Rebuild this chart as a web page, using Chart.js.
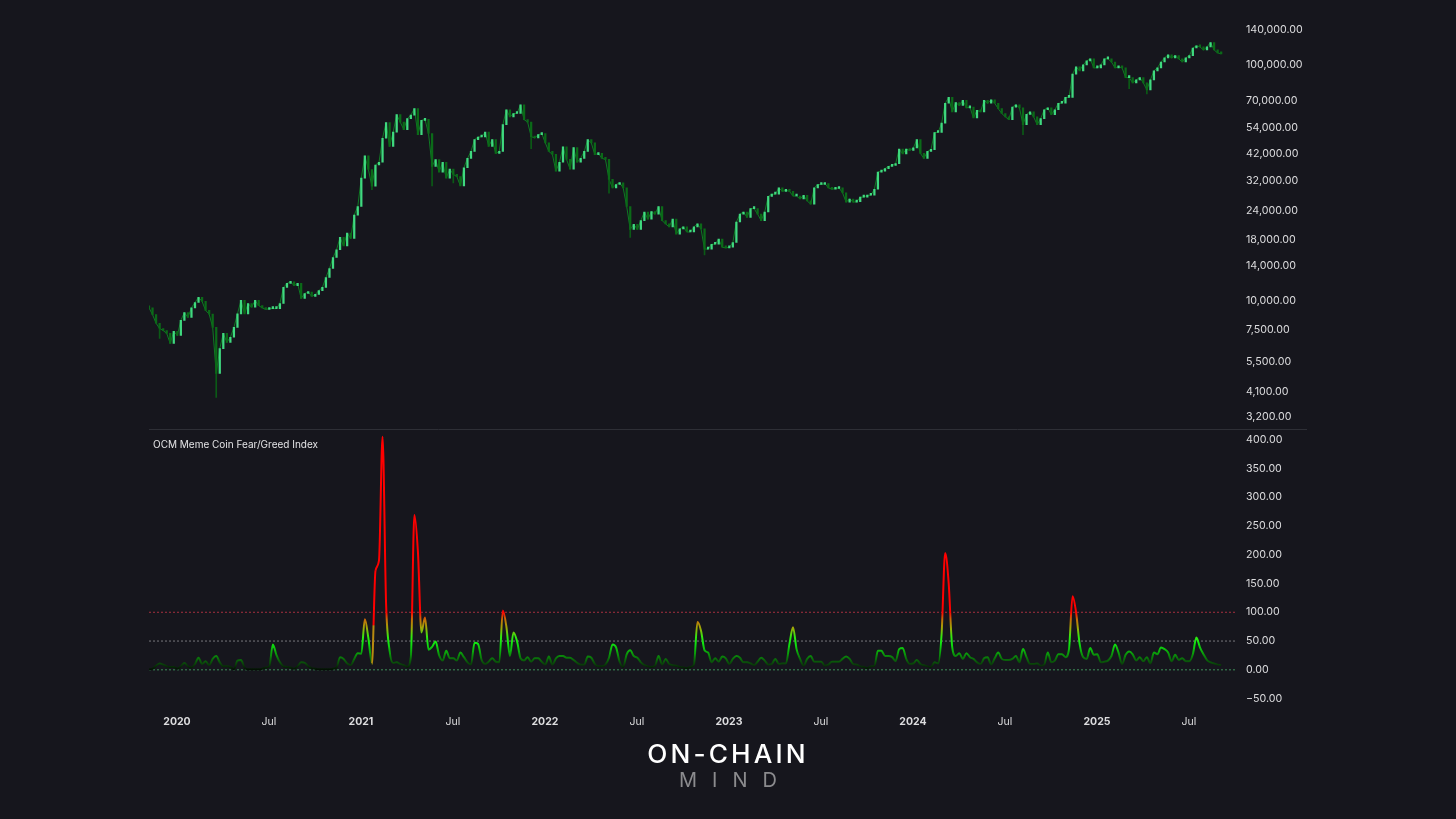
<!DOCTYPE html>
<html>
<head>
<meta charset="utf-8">
<title>OCM Meme Coin Fear/Greed Index</title>
<script src="https://cdn.jsdelivr.net/npm/chart.js@4"></script>
<style>
    html, body { margin: 0; padding: 0; background: #16161d; overflow: hidden; }
    #wrap { position: relative; width: 1456px; height: 819px; }
    #chart { position: absolute; left: 0; top: 0; }
    .panel-title { position: absolute; left: 153px; top: 438px; font: 400 10px Inter, sans-serif; color: #e4e4e6; }
    .logo { position: absolute; width: 1456px; left: 0; text-align: center; font-family: Inter, sans-serif; white-space: nowrap; }
    #logo1 { top: 739px; font-size: 25px; font-weight: 500; letter-spacing: 3px; color: #ffffff; transform: scaleX(1.05); }
    #logo2 { top: 768px; font-size: 20px; font-weight: 400; letter-spacing: 15px; color: #8b8b8e; text-indent: 15px; }
</style>
</head>
<body>
<div id="wrap">
    <canvas id="chart" width="1456" height="819"></canvas>
    <div class="panel-title">OCM Meme Coin Fear/Greed Index</div>
    <div class="logo" id="logo1">ON-CHAIN</div>
    <div class="logo" id="logo2">MIND</div>
</div>
<script>
// weekly samples
const firstWeek = 2019.848;
const weekStep = 1 / 52;

const priceCloses = [
    9300, 8700, 8000, 7600, 7450, 7250, 6570, 7400, 7100, 8230,
    8880, 8470, 9300, 9800, 10300, 9900, 9070, 8750, 7680, 4900,
    6250, 7250, 6640, 6980, 7680, 8770, 10000, 8770, 9700, 9350,
    10000, 9500, 9300, 9150, 9230, 9230, 9230, 9700, 11350, 11800,
    12000, 11550, 11800, 10200, 10700, 10850, 10400, 10600, 11000, 11350,
    12500, 13650, 15200, 16400, 18500, 17000, 19300, 18300, 23000, 25000,
    33000, 41000, 35900, 30500, 37500, 38500, 48700, 56700, 45000, 51700,
    61300, 57000, 53000, 59000, 61000, 65000, 50400, 58000, 58500, 51000,
    37000, 39500, 35000, 38500, 33000, 36000, 34200, 33500, 30600, 36500,
    40000, 42800, 48000, 49300, 49300, 51700, 45000, 48000, 42000, 42800,
    55600, 64300, 60000, 62000, 62000, 67500, 58400, 57000, 49500, 48800,
    50400, 51000, 46500, 42800, 41600, 35300, 38500, 44800, 39600, 36000,
    44500, 38500, 40000, 42800, 48000, 46500, 41500, 42000, 40000, 39600,
    32600, 30000, 31000, 31500, 30000, 25000, 20000, 21000, 20000, 21800,
    23700, 22100, 23800, 23200, 25000, 21800, 21100, 20500, 22100, 19100,
    20100, 20500, 19500, 19500, 20500, 21100, 20100, 16500, 16500, 17300,
    17300, 18200, 16800, 16700, 16800, 17600, 21500, 23200, 23700, 22500,
    24500, 24500, 23200, 21800, 23700, 27600, 28200, 28200, 30000, 29000,
    29300, 29000, 27700, 27700, 26900, 27900, 26400, 25600, 30000, 31000,
    31000, 31300, 30000, 29600, 29800, 30000, 28600, 26100, 26900, 26100,
    26200, 27400, 27400, 27900, 27900, 29600, 35000, 35300, 36200, 37000,
    37300, 38000, 43800, 41800, 43800, 43200, 44300, 48000, 42000, 40000,
    42800, 43600, 51500, 51500, 56400, 68500, 72500, 63000, 69000, 67000,
    70500, 65500, 66000, 59300, 64000, 63000, 70500, 68500, 70900, 68500,
    65000, 62000, 60000, 58400, 66000, 67500, 65500, 55600, 61500, 63000,
    60000, 55600, 59000, 64300, 65500, 61300, 64300, 68500, 68500, 72500,
    72500, 91000, 97800, 94000, 99600, 103600, 105700, 96800, 96800, 99600,
    105700, 105700, 102500, 96800, 97800, 96800, 88000, 88000, 83600, 86100,
    88000, 83600, 78100, 86100, 94000, 96800, 102500, 106700, 109800, 106700,
    109000, 105700, 102500, 106700, 109000, 117500, 120000, 118700, 115300, 118700,
    124000, 115300, 112000, 111000
];

// the long dark lower wicks
const wickWeeks = [3, 19, 63, 80, 86, 108, 130, 136, 157, 247, 277, 282];
const wickLows = [6900, 3880, 29500, 30600, 31500, 44000, 28500, 18500, 15600, 50400, 79000, 75000];

const fearGreedValues = [
    1, 2, 7, 11, 9, 6, 5, 5, 2, 6,
    12, 6, 4, 10, 21, 10, 15, 8, 19, 24,
    13, 6, 6, 5, 1, 16, 17, 4, 1, 1,
    1, 1, 2, 4, 6, 44, 26, 13, 6, 5,
    4, 2, 6, 13, 12, 6, 3, 2, 1, 1,
    1, 1, 2, 4, 22, 19, 11, 8, 19, 29,
    28, 88, 55, 10, 172, 190, 405, 115, 33, 12,
    13, 10, 8, 5, 22, 269, 205, 65, 91, 35,
    40, 49, 25, 16, 33, 20, 20, 16, 30, 22,
    13, 9, 47, 45, 17, 10, 14, 20, 14, 13,
    103, 75, 24, 65, 50, 20, 16, 22, 14, 20,
    20, 14, 9, 23, 9, 20, 24, 24, 21, 21,
    17, 12, 9, 9, 23, 21, 10, 6, 6, 9,
    21, 44, 39, 14, 5, 27, 34, 24, 21, 13,
    8, 6, 5, 7, 24, 9, 19, 10, 8, 7,
    5, 4, 3, 5, 9, 83, 68, 34, 30, 13,
    20, 14, 23, 20, 10, 19, 24, 21, 13, 13,
    11, 8, 14, 21, 16, 9, 10, 19, 10, 11,
    11, 45, 74, 36, 19, 7, 19, 24, 14, 14,
    14, 7, 9, 14, 14, 14, 19, 23, 19, 10,
    9, 6, 5, 3, 6, 7, 33, 33, 24, 24,
    22, 15, 36, 38, 19, 10, 11, 17, 10, 8,
    6, 5, 13, 11, 63, 203, 150, 39, 24, 29,
    19, 29, 22, 19, 13, 10, 20, 22, 9, 20,
    30, 19, 17, 17, 19, 24, 13, 36, 22, 10,
    10, 11, 7, 9, 30, 13, 16, 27, 27, 22,
    36, 128, 100, 45, 22, 19, 38, 26, 27, 13,
    14, 16, 24, 44, 30, 10, 26, 32, 27, 16,
    22, 15, 22, 11, 30, 27, 39, 36, 30, 15,
    26, 17, 20, 15, 15, 27, 56, 39, 27, 17,
    13, 11, 9, 8
];

const priceTicks = [140000, 100000, 70000, 54000, 42000, 32000, 24000, 18000, 14000, 10000, 7500, 5500, 4100, 3200];
const fearTicks = [400, 350, 300, 250, 200, 150, 100, 50, 0, -50];
const timeTicks = [2020, 2020.5, 2021, 2021.5, 2022, 2022.5, 2023, 2023.5, 2024, 2024.5, 2025, 2025.5];
const timeLabels = ['2020', 'Jul', '2021', 'Jul', '2022', 'Jul', '2023', 'Jul', '2024', 'Jul', '2025', 'Jul'];
const levelLines = [100, 50, 0];
const levelColors = ['#a5303f', '#77777c', '#3f8f5a'];

const xMin = 2019.848;
const xMax = 2025.761;
const tickFont = 'Inter, sans-serif';
const tickColor = '#dcdcde';

function weekOf(i) {
    return firstWeek + i * weekStep;
}

// floating bars: each week runs from the previous close to this close
const priceBars = priceCloses.map((close, i) => ({
    x: weekOf(i),
    y: [i === 0 ? close * 1.01 : priceCloses[i - 1], close]
}));

const priceTrace = priceCloses.map((close, i) => ({ x: weekOf(i), y: close }));

const wickBars = wickWeeks.map((week, i) => ({
    x: weekOf(week),
    y: [wickLows[i], priceCloses[week]]
}));

const fearPoints = fearGreedValues.map((v, i) => ({ x: weekOf(i), y: v }));

const levelDatasets = levelLines.map((v, i) => ({
    type: 'line',
    yAxisID: 'yFear',
    data: [{ x: xMin, y: v }, { x: xMax, y: v }],
    borderColor: levelColors[i],
    borderWidth: 1,
    borderDash: [2, 2],
    pointRadius: 0,
    order: 5
}));

function fearGradient(chart) {
    const scale = chart.scales.yFear;
    const y0 = scale.getPixelForValue(0);
    const y1 = scale.getPixelForValue(110);
    const g = chart.ctx.createLinearGradient(0, y0, 0, y1);
    g.addColorStop(0, '#030d03');
    g.addColorStop(0.09, '#0a3f0a');
    g.addColorStop(0.18, '#0a700a');
    g.addColorStop(0.3, '#0bb00b');
    g.addColorStop(0.42, '#12e612');
    g.addColorStop(0.52, '#30e810');
    g.addColorStop(0.66, '#9fa808');
    g.addColorStop(0.8, '#c86a08');
    g.addColorStop(0.91, '#ff0000');
    g.addColorStop(1, '#ff0000');
    return g;
}

// the first 2021 jump stays orange until it clears about 75
function jumpGradient(chart) {
    const scale = chart.scales.yFear;
    const g = chart.ctx.createLinearGradient(0, scale.getPixelForValue(10), 0, scale.getPixelForValue(172));
    g.addColorStop(0, '#b88a10');
    g.addColorStop(0.41, '#b88a10');
    g.addColorStop(0.42, '#ff0000');
    g.addColorStop(1, '#ff0000');
    return g;
}

const dividerPlugin = {
    id: 'divider',
    afterDraw(chart) {
        const c = chart.ctx;
        c.save();
        c.strokeStyle = '#2e2f36';
        c.lineWidth = 1;
        c.beginPath();
        c.moveTo(chart.chartArea.left, 429.5);
        c.lineTo(1307, 429.5);
        c.stroke();
        c.restore();
    }
};

function fitPriceAxis(scale) {
    scale.width = 219;
    scale.paddingTop = 0;
    scale.paddingBottom = 0;
}

new Chart(document.getElementById('chart'), {
    type: 'bar',
    data: {
        datasets: [
            ...levelDatasets,
            {
                type: 'line',
                yAxisID: 'yPrice',
                data: priceTrace,
                borderColor: '#0f7a24',
                borderWidth: 1,
                pointRadius: 0,
                order: 4
            },
            {
                type: 'bar',
                yAxisID: 'yPrice',
                data: wickBars,
                barThickness: 1,
                grouped: false,
                backgroundColor: '#0b5a16',
                order: 3
            },
            {
                type: 'bar',
                yAxisID: 'yPrice',
                data: priceBars,
                barThickness: 1.6,
                minBarLength: 2,
                grouped: false,
                backgroundColor: ctx => {
                    const bar = ctx.raw;
                    return bar && bar.y[1] >= bar.y[0] ? '#3fd97f' : '#0b6a18';
                },
                order: 2
            },
            {
                type: 'line',
                yAxisID: 'yFear',
                data: fearPoints,
                borderWidth: 2,
                pointRadius: 0,
                cubicInterpolationMode: 'monotone',
                borderColor: ctx => ctx.chart.chartArea ? fearGradient(ctx.chart) : '#10e010',
                segment: {
                    borderColor: ctx => {
                        if (ctx.p0.parsed.y < 15 && ctx.p1.parsed.y > 150) {
                            return jumpGradient(ctx.chart);
                        }
                        return undefined;
                    }
                },
                order: 1
            }
        ]
    },
    plugins: [dividerPlugin],
    options: {
        responsive: false,
        animation: false,
        layout: { padding: { left: 149, top: 0, right: 0, bottom: 0 } },
        plugins: {
            legend: { display: false },
            tooltip: { enabled: false }
        },
        scales: {
            x: {
                type: 'linear',
                min: xMin,
                max: xMax,
                offset: false,
                grid: { display: false, offset: false, drawTicks: false },
                border: { display: false },
                afterBuildTicks: scale => {
                    scale.ticks = timeTicks.map(value => ({ value }));
                },
                afterFit: scale => {
                    scale.height = 106;
                },
                ticks: {
                    autoSkip: false,
                    maxRotation: 0,
                    padding: 3,
                    color: tickColor,
                    font: ctx => ({
                        family: tickFont,
                        size: 10.5,
                        weight: ctx.tick && Number.isInteger(ctx.tick.value) ? '700' : '400'
                    }),
                    callback: value => timeLabels[timeTicks.indexOf(value)]
                }
            },
            yPrice: {
                type: 'logarithmic',
                position: 'right',
                stack: 'panels',
                stackWeight: 429.5,
                min: 2836,
                max: 187700,
                grid: { display: false, drawTicks: false },
                border: { display: false },
                afterBuildTicks: scale => {
                    scale.ticks = priceTicks.map(value => ({ value }));
                },
                afterFit: fitPriceAxis,
                ticks: {
                    autoSkip: false,
                    padding: 9,
                    crossAlign: 'near',
                    color: tickColor,
                    font: { family: tickFont, size: 10.7 },
                    callback: value => value.toLocaleString('en-US', { minimumFractionDigits: 2 })
                }
            },
            yFear: {
                type: 'linear',
                position: 'right',
                stack: 'panels',
                stackWeight: 283.5,
                min: -75,
                max: 417.5,
                grid: { display: false, drawTicks: false },
                border: { display: false },
                afterBuildTicks: scale => {
                    scale.ticks = fearTicks.map(value => ({ value }));
                },
                afterFit: fitPriceAxis,
                ticks: {
                    autoSkip: false,
                    padding: 9,
                    crossAlign: 'near',
                    color: tickColor,
                    font: { family: tickFont, size: 10.7 },
                    callback: value => (value < 0 ? '\u2212' : '') + Math.abs(value).toFixed(2)
                }
            }
        }
    }
});
</script>
</body>
</html>
